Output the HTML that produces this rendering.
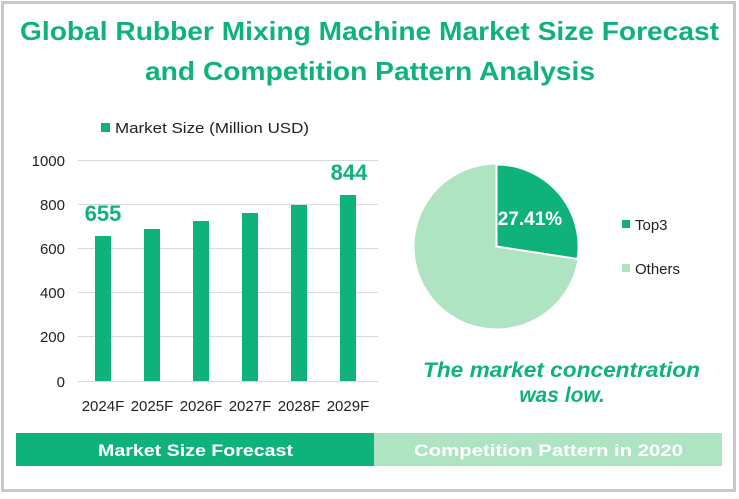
<!DOCTYPE html>
<html><head><meta charset="utf-8"><style>
body{margin:0;width:739px;height:494px;background:#fff;overflow:hidden;font-family:"Liberation Sans",sans-serif}
</style></head><body>
<svg width="739" height="494" xmlns="http://www.w3.org/2000/svg" font-family="Liberation Sans, sans-serif">
<rect x="2.5" y="2.5" width="732" height="488" fill="#fff" stroke="#c8c8c8" stroke-width="3"/>
<text x="20" y="40" textLength="699" lengthAdjust="spacingAndGlyphs" font-size="26" font-weight="bold" fill="#10b27c">Global Rubber Mixing Machine Market Size Forecast</text>
<text x="145" y="80" textLength="450" lengthAdjust="spacingAndGlyphs" font-size="26" font-weight="bold" fill="#10b27c">and Competition Pattern Analysis</text>
<rect x="101" y="123" width="9" height="9" fill="#10b27c"/>
<text x="115" y="133" textLength="194" lengthAdjust="spacingAndGlyphs" font-size="15" fill="#222">Market Size (Million USD)</text>
<g stroke="#d9d9d9" stroke-width="1">
<line x1="78" x2="378" y1="160.5" y2="160.5"/><line x1="78" x2="378" y1="204.5" y2="204.5"/>
<line x1="78" x2="378" y1="248.5" y2="248.5"/><line x1="78" x2="378" y1="292.5" y2="292.5"/>
<line x1="78" x2="378" y1="336.5" y2="336.5"/><line x1="78" x2="378" y1="381.5" y2="381.5"/>
</g>
<g font-size="15" fill="#222" text-anchor="end">
<text x="65" y="166">1000</text><text x="65" y="210">800</text><text x="65" y="254">600</text>
<text x="65" y="298">400</text><text x="65" y="342">200</text><text x="65" y="387">0</text>
</g>
<g fill="#10b27c">
<rect x="95" y="236" width="16" height="145"/>
<rect x="144" y="229" width="16" height="152"/>
<rect x="193" y="221" width="16" height="160"/>
<rect x="242" y="213" width="16" height="168"/>
<rect x="291" y="205" width="16" height="176"/>
<rect x="340" y="195" width="16" height="186"/>
</g>
<g font-size="15" fill="#222" text-anchor="middle">
<text x="103" y="411">2024F</text><text x="152" y="411">2025F</text><text x="201" y="411">2026F</text>
<text x="250" y="411">2027F</text><text x="299" y="411">2028F</text><text x="348" y="411">2029F</text>
</g>
<text x="103" y="221" text-anchor="middle" font-size="22" font-weight="bold" fill="#10b27c">655</text>
<text x="349" y="180" text-anchor="middle" font-size="22" font-weight="bold" fill="#10b27c">844</text>
<circle cx="496.5" cy="246.5" r="82" fill="#aee4c2"/>
<path d="M496.5,246.5 L496.5,164.5 A82,82 0 0 1 577.6,259 Z" fill="#10b27c" stroke="#fff" stroke-width="2"/>
<text x="530" y="225" text-anchor="middle" font-size="19" font-weight="bold" fill="#fff">27.41%</text>
<rect x="622" y="220" width="8" height="8" fill="#10b27c"/>
<text x="635" y="230" font-size="15" fill="#222">Top3</text>
<rect x="622" y="264" width="8" height="8" fill="#aee4c2"/>
<text x="635" y="274" font-size="15" fill="#222">Others</text>
<text x="423" y="377" textLength="277" lengthAdjust="spacingAndGlyphs" font-size="21" font-weight="bold" font-style="italic" fill="#10b27c">The market concentration</text>
<text x="562" y="402" text-anchor="middle" font-size="21" font-weight="bold" font-style="italic" fill="#10b27c">was low.</text>
<rect x="16" y="433" width="358" height="33" fill="#10b27c"/>
<rect x="374" y="433" width="348" height="33" fill="#aee4c2"/>
<text x="98" y="456" textLength="195" lengthAdjust="spacingAndGlyphs" font-size="17" font-weight="bold" fill="#fff">Market Size Forecast</text>
<text x="414" y="456" textLength="269" lengthAdjust="spacingAndGlyphs" font-size="17" font-weight="bold" fill="#fff">Competition Pattern in 2020</text>
</svg>
</body></html>
